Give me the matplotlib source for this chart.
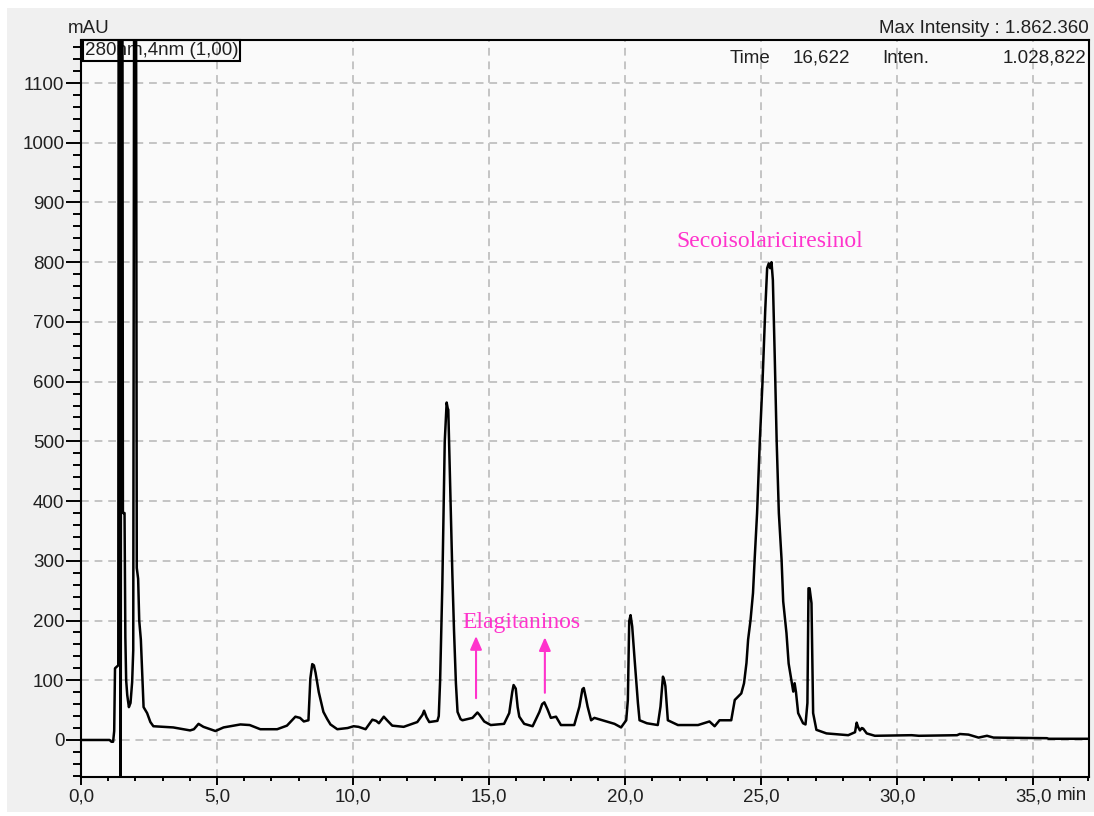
import numpy as np
import matplotlib
matplotlib.use("Agg")
import matplotlib.pyplot as plt
import matplotlib.ticker as ticker
from matplotlib.patches import Rectangle

# cromatograma 280 nm: tiempo (min) y absorbancia (mAU)
time = [0.0, 1.05, 1.12, 1.18, 1.22, 1.25, 1.37, 1.39, 1.44, 1.46, 1.48, 1.52, 1.54, 1.60,
        1.63, 1.66, 1.70, 1.76, 1.82, 1.88, 1.92, 1.96, 2.02, 2.05, 2.10, 2.14, 2.20, 2.26,
        2.30, 2.43, 2.55, 2.66, 3.39, 4.01, 4.15, 4.32, 4.50, 4.94, 5.24, 5.86, 6.20, 6.59,
        7.21, 7.57, 7.88, 8.05, 8.19, 8.36, 8.43, 8.50, 8.56, 8.62, 8.74, 8.91, 9.05, 9.17,
        9.42, 9.80, 10.02, 10.20, 10.46, 10.71, 10.85, 10.95, 11.13, 11.25, 11.44, 11.86,
        12.36, 12.55, 12.61, 12.70, 12.80, 13.10, 13.15, 13.20, 13.28, 13.37, 13.44, 13.48,
        13.50, 13.57, 13.65, 13.71, 13.78, 13.84, 13.95, 14.02, 14.39, 14.57, 14.65, 14.82,
        15.06, 15.55, 15.74, 15.85, 15.90, 15.98, 16.05, 16.11, 16.29, 16.60, 16.85, 16.95,
        17.03, 17.15, 17.27, 17.46, 17.64, 18.13, 18.32, 18.43, 18.48, 18.56, 18.62, 18.75,
        18.87, 19.24, 19.61, 19.85, 20.04, 20.10, 20.15, 20.20, 20.26, 20.34, 20.47, 20.53,
        20.80, 21.20, 21.30, 21.39, 21.44, 21.48, 21.57, 21.94, 22.68, 23.10, 23.29, 23.47,
        23.90, 24.03, 24.27, 24.37, 24.46, 24.52, 24.61, 24.70, 24.76, 24.85, 24.95, 25.05,
        25.15, 25.22, 25.28, 25.33, 25.38, 25.43, 25.50, 25.57, 25.65, 25.75, 25.81, 25.93,
        26.01, 26.11, 26.18, 26.23, 26.28, 26.36, 26.54, 26.63, 26.70, 26.74, 26.78, 26.85,
        26.91, 27.03, 27.40, 28.20, 28.45, 28.51, 28.56, 28.63, 28.70, 28.75, 28.88, 29.18,
        30.53, 30.80, 32.20, 32.30, 32.62, 32.99, 33.30, 33.54, 35.50, 35.57, 37.04]
mau = [0, 0, -3, -3, 15, 120, 125, 1860, 1800, -90, 1500, 1400, 380, 380,
       172, 100, 75, 55, 62, 97, 150, 1500, 1400, 288, 270, 200, 168, 100,
       55, 45, 30, 23, 21, 16, 18, 27, 22, 15, 21, 26, 25, 18,
       18, 24, 39, 37, 31, 33, 103, 127, 125, 113, 80, 47, 35, 26,
       18, 20, 23, 22, 18, 34, 32, 28, 39, 33, 24, 22,
       30, 42, 49, 38, 30, 32, 40, 100, 257, 500, 565, 555,
       553, 422, 277, 184, 95, 47, 35, 33, 37, 46, 42, 31,
       25, 27, 45, 80, 92, 86, 55, 39, 27, 23, 47, 60,
       63, 51, 37, 39, 25, 25, 56, 85, 87, 70, 56, 33,
       37, 32, 27, 21, 33, 67, 199, 209, 190, 140, 62, 33,
       28, 25, 56, 106, 100, 90, 33, 25, 25, 31, 23, 33,
       33, 67, 78, 95, 129, 168, 201, 246, 302, 380, 500, 600,
       720, 790, 798, 790, 800, 770, 640, 500, 380, 302, 232, 179,
       128, 101, 81, 95, 80, 45, 28, 26, 62, 254, 254, 229,
       45, 17, 11, 8, 13, 29, 22, 16, 20, 19, 11, 7,
       8, 7, 8, 10, 9, 4, 7, 4, 3, 2, 2]

# flechas de los elagitaninos: x, y inicio, y punta
arrow_x = [14.52, 17.05]
arrow_y0 = [70, 79]
arrow_y1 = [174, 172]

pink = '#ff33cc'

fig = plt.figure(figsize=(10.94, 8.16), dpi=100)
fig.patch.set_facecolor('white')
fig.add_artist(Rectangle((0.0064, 0.0049), 0.9936, 0.9853, transform=fig.transFigure,
                         facecolor='#f0f0f0', edgecolor='none', zorder=0))

ax = fig.add_axes([0.07404, 0.04779, 0.92139, 0.90319])
ax.set_facecolor('#fafafa')
ax.plot(time, mau, color='black', lw=1.8, zorder=4)

ax.set_xlim(0, 37.05)
ax.set_ylim(-62, 1172)

ax.xaxis.set_major_locator(ticker.MultipleLocator(5))
ax.xaxis.set_minor_locator(ticker.MultipleLocator(1))
ax.yaxis.set_major_locator(ticker.MultipleLocator(100))
ax.yaxis.set_minor_locator(ticker.MultipleLocator(20))
ax.xaxis.set_major_formatter(ticker.FuncFormatter(lambda v, p: ('%.1f' % v).replace('.', ',')))
ax.yaxis.set_major_formatter(ticker.FuncFormatter(lambda v, p: '%d' % v if v >= 0 else ''))

ax.tick_params(axis='y', which='major', length=11, width=1.4, pad=1,
               labelsize=13.5, labelcolor='#202020')
ax.tick_params(axis='y', which='minor', length=5.5, width=1.4)
ax.tick_params(axis='x', which='major', length=5.5, width=1.4, pad=3,
               labelsize=13.5, labelcolor='#202020')
ax.tick_params(axis='x', which='minor', length=3, width=1.4)
for lab in ax.get_xticklabels() + ax.get_yticklabels():
    lab.set_fontfamily('Liberation Sans')

for s in ax.spines.values():
    s.set_linewidth(1.5)
    s.set_color('black')

ax.grid(which='major', color='#c4c4c4', linestyle=(0, (4, 3)), linewidth=1.4)
ax.set_axisbelow(True)

sans = dict(family='Liberation Sans', fontsize=13.5, color='#202020')
fig.text(0.0815, 0.965, 'mAU', ha='center', va='center', **sans)
fig.text(0.995, 0.965, 'Max Intensity : 1.862.360', ha='right', va='center', **sans)
fig.text(0.9663, 0.0255, 'min', ha='left', va='center', **sans)

ax.text(0.0035, 0.997, '280nm,4nm (1,00)', transform=ax.transAxes, ha='left', va='top',
        zorder=3, bbox=dict(boxstyle='square,pad=0.1', facecolor='none',
                            edgecolor='black', linewidth=1.5), **sans)
ax.text(0.643, 0.987, 'Time', transform=ax.transAxes, ha='left', va='top', **sans)
ax.text(0.706, 0.987, '16,622', transform=ax.transAxes, ha='left', va='top', **sans)
ax.text(0.795, 0.987, 'Inten.', transform=ax.transAxes, ha='left', va='top', **sans)
ax.text(0.997, 0.987, '1.028,822', transform=ax.transAxes, ha='right', va='top', **sans)

serif = dict(family='Liberation Serif', fontsize=17, color=pink)
ax.text(25.32, 834, 'Secoisolariciresinol', ha='center', va='center', **serif)
ax.text(16.19, 197, 'Elagitaninos', ha='center', va='center', **serif)
for x, y0, y1 in zip(arrow_x, arrow_y0, arrow_y1):
    ax.annotate('', xy=(x, y1), xytext=(x, y0),
                arrowprops=dict(arrowstyle='-|>,head_length=0.8,head_width=0.35',
                                color=pink, lw=1.5, shrinkA=0, shrinkB=0))

fig.savefig('out.png', dpi=100)
